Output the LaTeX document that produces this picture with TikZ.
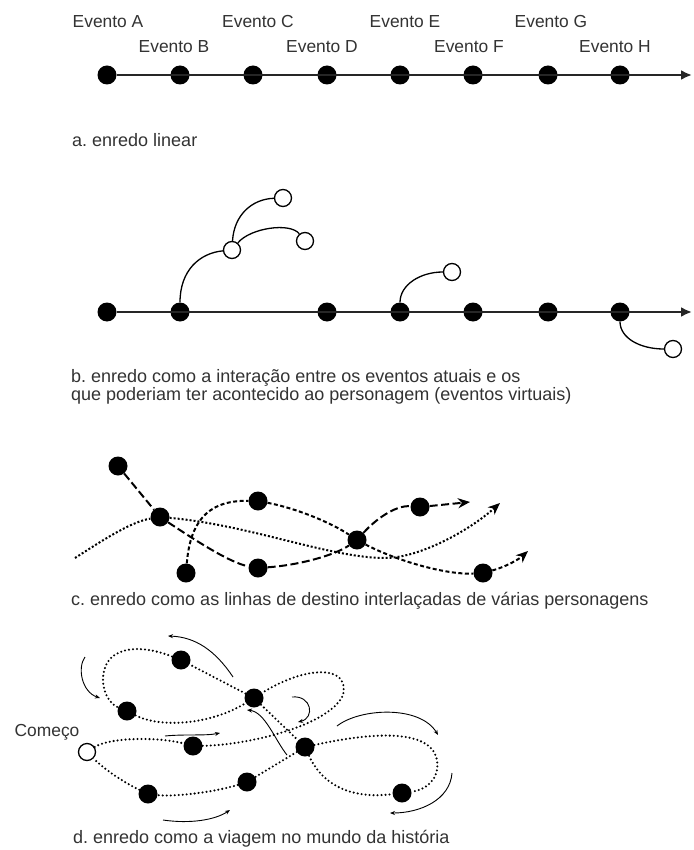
\documentclass[tikz,border=0pt]{standalone}
\usepackage{fontspec}
\setmainfont{Liberation Sans}
\usetikzlibrary{arrows.meta}
\frenchspacing
\begin{document}
\begin{tikzpicture}[x=1pt,y=-1pt,
  every node/.style={font=\fontsize{17.4}{20}\selectfont, text=black!80},
  dot/.style={circle,fill=black,inner sep=0pt,minimum size=19pt},
  odot/.style={circle,draw=black,line width=1.3pt,fill=white,inner sep=0pt,minimum size=17pt},
  timeline/.style={line width=2.4pt,draw=black!85,-{Latex[length=11pt,width=10pt]}},
  branch/.style={line width=1.3pt,draw=black},
  longdash/.style={line width=2pt,dash pattern=on 8pt off 3.5pt},
  shortdash/.style={line width=2pt,dash pattern=on 4pt off 2.5pt},
  dotline/.style={line width=2pt,dash pattern=on 2pt off 2pt},
  ctip/.style={-{Stealth[length=12pt,width=10pt]}},
  ddot/.style={line width=2.3pt,line cap=round,dash pattern=on 0pt off 4pt},
  thinarrow/.style={line width=0.9pt,-{Stealth[length=5pt,width=4pt]}},
  caption/.style={anchor=west,inner sep=0pt,font=\fontsize{18}{21}\selectfont\frenchspacing}
]
\useasboundingbox (0,0) rectangle (693,850);
\fill[white] (0,0) rectangle (693,850);

% ---------- a ----------
\foreach \n/\x in {1/107,2/180,3/253,4/327,5/400,6/473,7/548,8/620}
  \node[dot] (a\n) at (\x,75) {};
\coordinate (aend) at (692,75);
\draw[timeline] (a1) -- (aend);
\node (la) at (108,22) {Evento A};
\node (lb) at (174,47) {Evento B};
\node (lc) at (258,22) {Evento C};
\node (ld) at (322,47) {Evento D};
\node (le) at (405,22) {Evento E};
\node (lf) at (469,47) {Evento F};
\node (lg) at (551,22) {Evento G};
\node (lh) at (615,47) {Evento H};
\node[caption] (capa) at (72,140) {a. enredo linear};

% ---------- b ----------
\foreach \n/\x in {1/107,2/180,3/327,4/400,5/473,6/548,7/620}
  \node[dot] (b\n) at (\x,312) {};
\coordinate (bend) at (692,312);
\draw[timeline] (b1) -- (bend);
\node[odot] (o1) at (232,250) {};
\node[odot] (o2) at (283,198) {};
\node[odot] (o3) at (305,241) {};
\node[odot] (o4) at (452,272) {};
\node[odot] (o5) at (673,349) {};
\draw[branch] (b2) .. controls (180,270) and (200,253) .. (o1);
\draw[branch] (o1) .. controls (234,215) and (252,199) .. (o2);
\draw[branch] (o1) .. controls (250,228) and (290,222) .. (o3);
\draw[branch] (b4) .. controls (400,285) and (420,272) .. (o4);
\draw[branch] (b7) .. controls (620,338) and (640,349) .. (o5);
\node[caption] (capb1) at (71,378) {b. enredo como a interação entre os eventos atuais e os};
\node[caption] (capb2) at (71,396) {que poderiam ter acontecido ao personagem (eventos virtuais)};

% ---------- c ----------
\node[dot] (c1) at (118,466) {};
\node[dot] (c2) at (160,517) {};
\node[dot] (c3) at (258,501) {};
\node[dot] (c4) at (186,573) {};
\node[dot] (c5) at (258,568) {};
\node[dot] (c6) at (357,540) {};
\node[dot] (c7) at (420,507) {};
\node[dot] (c8) at (483,573) {};
\coordinate (cs) at (75,558);
\coordinate (cm) at (385,558);
\coordinate (t1) at (470,502);
\coordinate (t2) at (500,503);
\coordinate (t3) at (528,551);
% long dashed
\draw[longdash] (c1) -- (c2);
\draw[longdash] (c2) .. controls (195,540) and (230,563) .. (c5);
\draw[longdash] (c5) .. controls (300,565) and (335,555) .. (c6);
\draw[longdash] (c6) .. controls (375,520) and (395,505) .. (c7);
\draw[longdash,ctip] (c7) -- (t1);
% short dashed
\draw[shortdash] (c4) .. controls (190,525) and (205,500) .. (c3);
\draw[shortdash] (c3) .. controls (295,508) and (330,522) .. (c6);
\draw[shortdash] (c6) .. controls (395,560) and (445,575) .. (c8);
\draw[shortdash,ctip] (c8) .. controls (505,567) and (518,560) .. (t3);
% dotted
\draw[dotline] (cs) .. controls (100,542) and (130,522) .. (c2);
\draw[dotline,ctip] (c2) .. controls (250,525) and (330,558) .. (cm) .. controls (420,558) and (470,530) .. (t2);
\node[caption] (capc) at (71,601) {c. enredo como as linhas de destino interlaçadas de várias personagens};

% ---------- d ----------
\node[dot] (d1) at (181,660) {};
\node[dot] (d2) at (127,711) {};
\node[dot] (d3) at (254,698) {};
\node[dot] (d4) at (193,746) {};
\node[dot] (d5) at (305,747) {};
\node[dot] (d6) at (247,782) {};
\node[dot] (d7) at (148,794) {};
\node[dot] (d8) at (402,793) {};
\node[odot] (st) at (87,752) {};
\node (comeco) at (47,732) {Começo};
\coordinate (q1) at (343,695);
\coordinate (q2) at (437,760);
\coordinate (q3) at (103,680);
\draw[ddot] (st) .. controls (110,737) and (160,737) .. (d4);
\draw[ddot] (d4) .. controls (250,745) and (330,725) .. (q1) .. controls (350,664) and (305,666) .. (d3);
\draw[ddot] (d3) -- (d5);
\draw[ddot] (d5) .. controls (360,735) and (430,725) .. (q2) .. controls (440,780) and (425,790) .. (d8);
\draw[ddot] (d5) .. controls (320,780) and (345,800) .. (d8);
\draw[ddot] (d5) -- (d6);
\draw[ddot] (d6) .. controls (215,792) and (175,797) .. (d7);
\draw[ddot] (d7) .. controls (125,783) and (105,770) .. (st);
\draw[ddot] (d3) -- (d1);
\draw[ddot] (d1) .. controls (135,642) and (103,648) .. (q3) .. controls (103,695) and (112,705) .. (d2);
\draw[ddot] (d2) .. controls (160,728) and (210,725) .. (d3);
% thin arrows
\coordinate (s1) at (233,677); \coordinate (e1) at (168,636);
\coordinate (s2) at (85,657);  \coordinate (e2) at (100,698);
\coordinate (s3) at (165,736); \coordinate (e3) at (220,733);
\coordinate (s4) at (292,697); \coordinate (e4) at (298,722);
\coordinate (s5) at (287,755); \coordinate (e5) at (247,710);
\coordinate (s6) at (337,726); \coordinate (e6) at (438,735);
\coordinate (s7) at (452,773); \coordinate (e7) at (390,813);
\coordinate (s8) at (163,820); \coordinate (e8) at (230,810);
\draw[thinarrow] (s1) .. controls (215,650) and (195,637) .. (e1);
\draw[thinarrow] (s2) .. controls (77,668) and (82,692) .. (e2);
\draw[thinarrow] (s3) .. controls (185,734) and (205,736) .. (e3);
\draw[thinarrow] (s4) .. controls (312,695) and (315,718) .. (e4);
\draw[thinarrow] (s5) .. controls (275,740) and (265,712) .. (e5);
\draw[thinarrow] (s6) .. controls (360,708) and (420,705) .. (e6);
\draw[thinarrow] (s7) .. controls (450,800) and (420,813) .. (e7);
\draw[thinarrow] (s8) .. controls (190,824) and (215,820) .. (e8);
\node[caption] (capd) at (73,839) {d. enredo como a viagem no mundo da história};
\end{tikzpicture}
\end{document}
